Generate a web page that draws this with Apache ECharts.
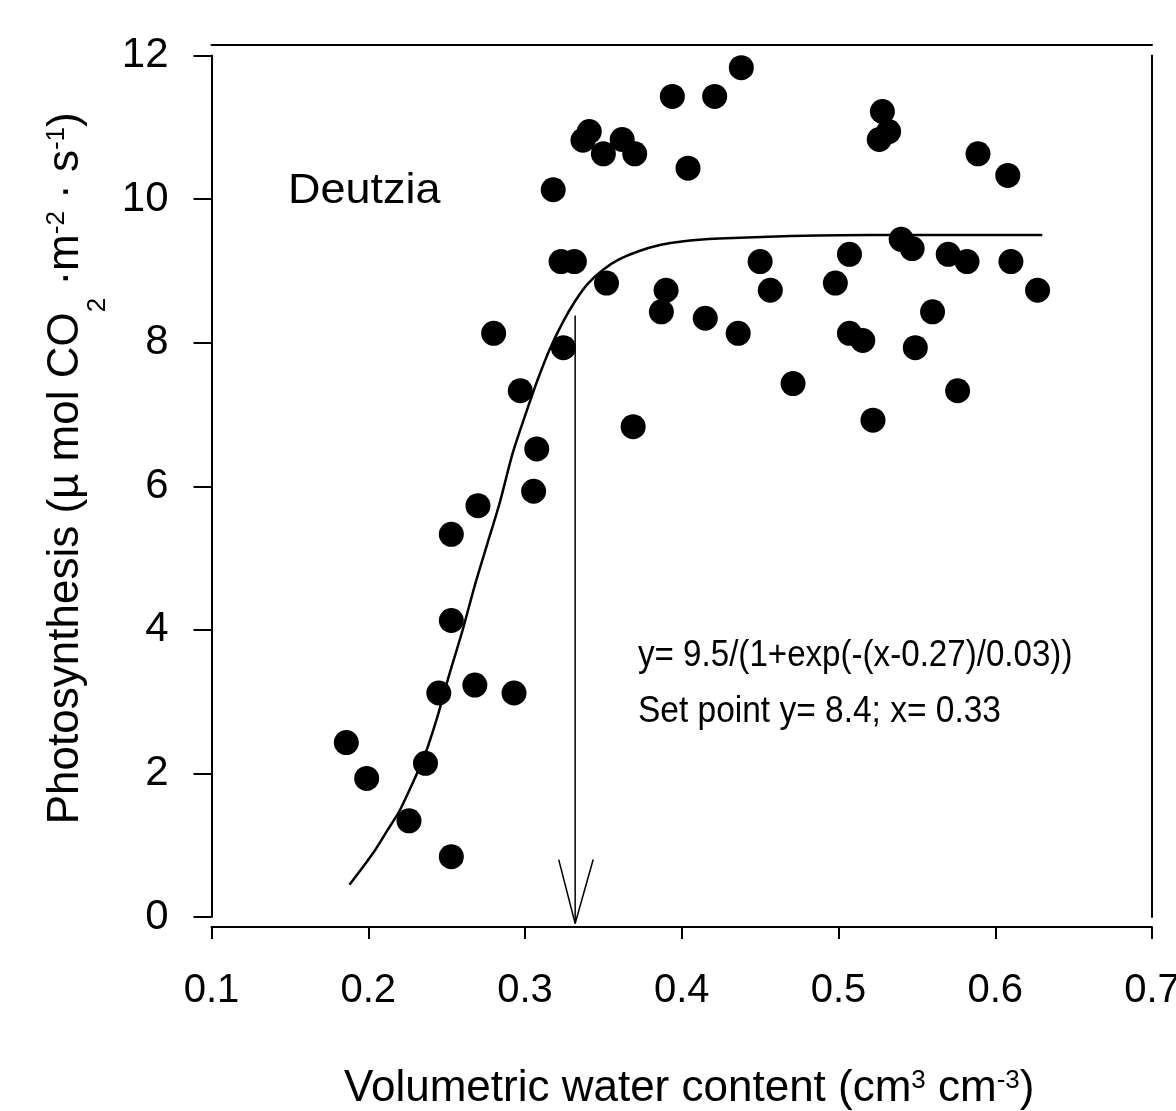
<!DOCTYPE html>
<html>
<head>
<meta charset="utf-8">
<script src="https://cdn.jsdelivr.net/npm/echarts@6/dist/echarts.min.js"></script>
<style>
  html, body { margin: 0; padding: 0; background: #fff; }
  #chart { width: 1176px; height: 1111px; }
</style>
</head>
<body>
<div id="chart"></div>
<script>
// measured points (water content vs photosynthesis)
const waterContent = [
  0.186, 0.199, 0.226, 0.2365, 0.245, 0.253, 0.253, 0.253, 0.268, 0.270,
  0.280, 0.293, 0.297, 0.3055, 0.3075, 0.318, 0.323, 0.3315, 0.3245, 0.337,
  0.341, 0.350, 0.352, 0.362, 0.369, 0.370, 0.387, 0.390, 0.394, 0.404,
  0.415, 0.421, 0.436, 0.438, 0.450, 0.4565, 0.471, 0.498, 0.507, 0.507,
  0.5155, 0.522, 0.526, 0.528, 0.532, 0.540, 0.547, 0.549, 0.560, 0.570,
  0.576, 0.582, 0.589, 0.608, 0.610, 0.627
];
const photosynthesis = [
  2.43, 1.93, 1.34, 2.14, 3.12, 0.84, 4.13, 5.33, 3.23, 5.73,
  8.13, 3.12, 7.33, 5.93, 6.52, 10.13, 9.13, 9.13, 7.93, 10.82,
  10.94, 10.63, 8.83, 10.83, 6.83, 10.63, 8.43, 8.73, 11.43, 10.43,
  8.34, 11.43, 8.13, 11.83, 9.13, 8.73, 7.43, 8.83, 9.23, 8.13,
  8.03, 6.92, 10.83, 11.22, 10.94, 9.44, 9.31, 7.93, 8.43, 9.23,
  7.33, 9.13, 10.63, 10.33, 9.13, 8.73
];

// fitted sigmoid
const fitX = [0.188, 0.196, 0.204, 0.212, 0.220, 0.228, 0.236, 0.244, 0.252, 0.260,
  0.268, 0.276, 0.284, 0.292, 0.300, 0.308, 0.316, 0.324, 0.332, 0.340,
  0.350, 0.360, 0.372, 0.386, 0.400, 0.424, 0.460, 0.520, 0.580, 0.630];
const fitY = [0.45, 0.68, 0.92, 1.20, 1.48, 1.85, 2.25, 2.78, 3.40, 3.98,
  4.62, 5.20, 5.78, 6.45, 6.98, 7.48, 7.92, 8.28, 8.58, 8.82,
  9.02, 9.16, 9.27, 9.36, 9.41, 9.45, 9.48, 9.50, 9.50, 9.50];

// set point arrow
const arrowShaftX = [0.332, 0.332];
const arrowShaftY = [8.38, -0.09];
const arrowHeadX = [0.3215, 0.332, 0.3435];
const arrowHeadY = [0.80, -0.09, 0.80];

const xRange = [0.1, 0.7];
const yRange = [0, 12];

const FONT = "'Liberation Sans', Arial, sans-serif";
const zip = (a, b) => a.map((v, i) => [v, b[i]]);

const chart = echarts.init(document.getElementById('chart'));

chart.setOption({
  animation: false,
  backgroundColor: '#fff',
  grid: {
    left: 211.5, right: 24, top: 55.5, bottom: 194,
    containLabel: false,
    outerBoundsMode: 'none'
  },
  xAxis: [{
    type: 'value',
    position: 'bottom',
    min: xRange[0], max: xRange[1], interval: 0.1,
    offset: 10,
    axisLine: { show: true, onZero: false, lineStyle: { color: '#000', width: 2 } },
    axisTick: { show: true, inside: false, length: 12, lineStyle: { color: '#000', width: 2 } },
    axisLabel: {
      color: '#000', fontFamily: FONT, fontSize: 40, margin: 44,
      formatter: (v) => v.toFixed(1)
    },
    splitLine: { show: false },
    name: 'Volumetric water content (cm{sup|3} cm{sup|-3})',
    nameLocation: 'middle',
    nameGap: 132,
    nameTextStyle: {
      color: '#000', fontFamily: FONT, fontSize: 44, lineHeight: 60,
      padding: [0, 0, 0, 15],
      rich: {
        sup: { color: '#000', fontFamily: FONT, fontSize: 26, lineHeight: 26, padding: [0, 0, 17, 0] }
      }
    }
  }, {
    type: 'value',
    position: 'top',
    min: xRange[0], max: xRange[1],
    offset: 10.5,
    axisLine: { show: true, onZero: false, lineStyle: { color: '#000', width: 2 } },
    axisTick: { show: false },
    axisLabel: { show: false },
    splitLine: { show: false }
  }],
  yAxis: [{
    type: 'value',
    position: 'left',
    min: yRange[0], max: yRange[1], interval: 2,
    axisLine: { show: true, onZero: false, lineStyle: { color: '#000', width: 2 } },
    axisTick: { show: true, inside: false, length: 18, lineStyle: { color: '#000', width: 2 } },
    axisLabel: { color: '#000', fontFamily: FONT, fontSize: 42, margin: 43 },
    splitLine: { show: false },
    name: 'Photosynthesis (\u00b5 mol CO{sub|2} \u00b7m{sup|-2} \u00b7 s{sup|-1})',
    nameLocation: 'middle',
    nameRotate: 90,
    nameGap: 83,
    nameTextStyle: {
      color: '#000', fontFamily: FONT, fontSize: 44, lineHeight: 90,
      padding: [0, 0, 0, 36],
      rich: {
        sup: { color: '#000', fontFamily: FONT, fontSize: 26, lineHeight: 26, padding: [0, 0, 18, 0] },
        sub: { color: '#000', fontFamily: FONT, fontSize: 26, lineHeight: 26, verticalAlign: 'bottom' }
      }
    }
  }, {
    type: 'value',
    position: 'right',
    min: yRange[0], max: yRange[1],
    axisLine: { show: true, onZero: false, lineStyle: { color: '#000', width: 2 } },
    axisTick: { show: false },
    axisLabel: { show: false },
    splitLine: { show: false }
  }],
  series: [{
    type: 'line',
    data: zip(fitX, fitY),
    smooth: 0.25,
    showSymbol: false,
    silent: true,
    lineStyle: { color: '#000', width: 2.5 },
    z: 3
  }, {
    type: 'scatter',
    data: zip(waterContent, photosynthesis),
    symbol: 'circle',
    symbolSize: 25,
    itemStyle: { color: '#000', opacity: 1 },
    z: 4
  }, {
    type: 'line',
    data: zip(arrowShaftX, arrowShaftY),
    showSymbol: false,
    clip: false,
    silent: true,
    lineStyle: { color: '#000', width: 1.5 },
    z: 5
  }, {
    type: 'line',
    data: zip(arrowHeadX, arrowHeadY),
    showSymbol: false,
    clip: false,
    silent: true,
    lineStyle: { color: '#000', width: 1.5 },
    z: 5
  }],
  graphic: [{
    type: 'text',
    x: 288, y: 191,
    scaleX: 1.07,
    style: { text: 'Deutzia', fill: '#000', font: '42px ' + FONT, verticalAlign: 'middle' }
  }, {
    type: 'text',
    x: 638, y: 656,
    scaleX: 0.92,
    style: { text: 'y= 9.5/(1+exp(-(x-0.27)/0.03))', fill: '#000', font: '36px ' + FONT, verticalAlign: 'middle' }
  }, {
    type: 'text',
    x: 638, y: 712,
    scaleX: 0.93,
    style: { text: 'Set point y= 8.4; x= 0.33', fill: '#000', font: '36px ' + FONT, verticalAlign: 'middle' }
  }]
});
</script>
</body>
</html>
